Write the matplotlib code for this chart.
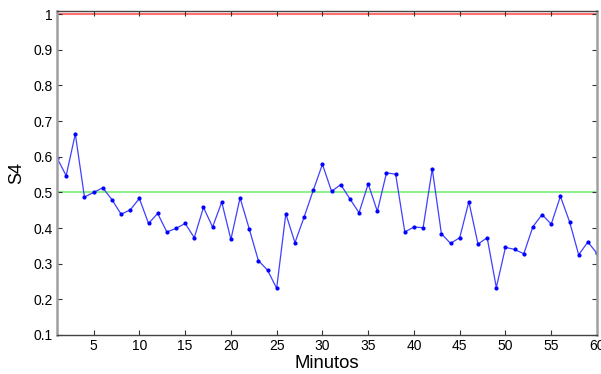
import numpy as np
import matplotlib.pyplot as plt

plt.rcParams['font.family'] = ['Liberation Sans', 'DejaVu Sans']

# S4 index per minute
minutos = np.arange(1, 61)
s4 = [0.597, 0.547, 0.664, 0.487, 0.500, 0.513, 0.480, 0.439, 0.451, 0.483,
      0.413, 0.441, 0.389, 0.399, 0.413, 0.373, 0.458, 0.403, 0.473, 0.368,
      0.485, 0.398, 0.309, 0.282, 0.231, 0.440, 0.359, 0.431, 0.506, 0.579,
      0.503, 0.522, 0.482, 0.443, 0.524, 0.447, 0.555, 0.551, 0.389, 0.403,
      0.401, 0.566, 0.384, 0.357, 0.373, 0.474, 0.355, 0.373, 0.233, 0.346,
      0.340, 0.328, 0.404, 0.438, 0.411, 0.489, 0.418, 0.325, 0.361, 0.329]
limite_alto = 1.0
limite_medio = 0.5

fig = plt.figure(figsize=(6.01, 3.74), dpi=100)
ax = fig.add_axes([57/601, 1-335/374, 540/601, 324/374])

ax.axhline(limite_alto, color='#ff7070', lw=1.5, zorder=1)
ax.axhline(limite_medio, color='#90f090', lw=1.5, zorder=1)
ax.plot(minutos, s4, color='#4040ff', lw=0.9, marker='.', ms=4,
        mfc='#0000ff', mec='#0000ff', zorder=2)

ax.set_xlim(1, 60)
ax.set_ylim(0.1, 1.009)
ax.set_xticks(np.arange(5, 61, 5))
ax.set_yticks(np.arange(0.1, 1.01, 0.1))
ax.set_yticklabels(['0.1', '0.2', '0.3', '0.4', '0.5', '0.6', '0.7', '0.8', '0.9', '1'])
ax.tick_params(direction='in', top=True, right=True, labelsize=10,
               length=3.8, width=0.8, color='#333333', pad=3)

ax.set_xlabel('Minutos', fontsize=13.3, labelpad=1.5)
ax.set_ylabel('S4', fontsize=13, labelpad=6)

for side in ['left', 'right']:
    ax.spines[side].set_color('#a0a0a0')
    ax.spines[side].set_linewidth(1.8)
for side in ['top', 'bottom']:
    ax.spines[side].set_color('#444444')
    ax.spines[side].set_linewidth(1.0)

fig.savefig('out.png', dpi=100)
